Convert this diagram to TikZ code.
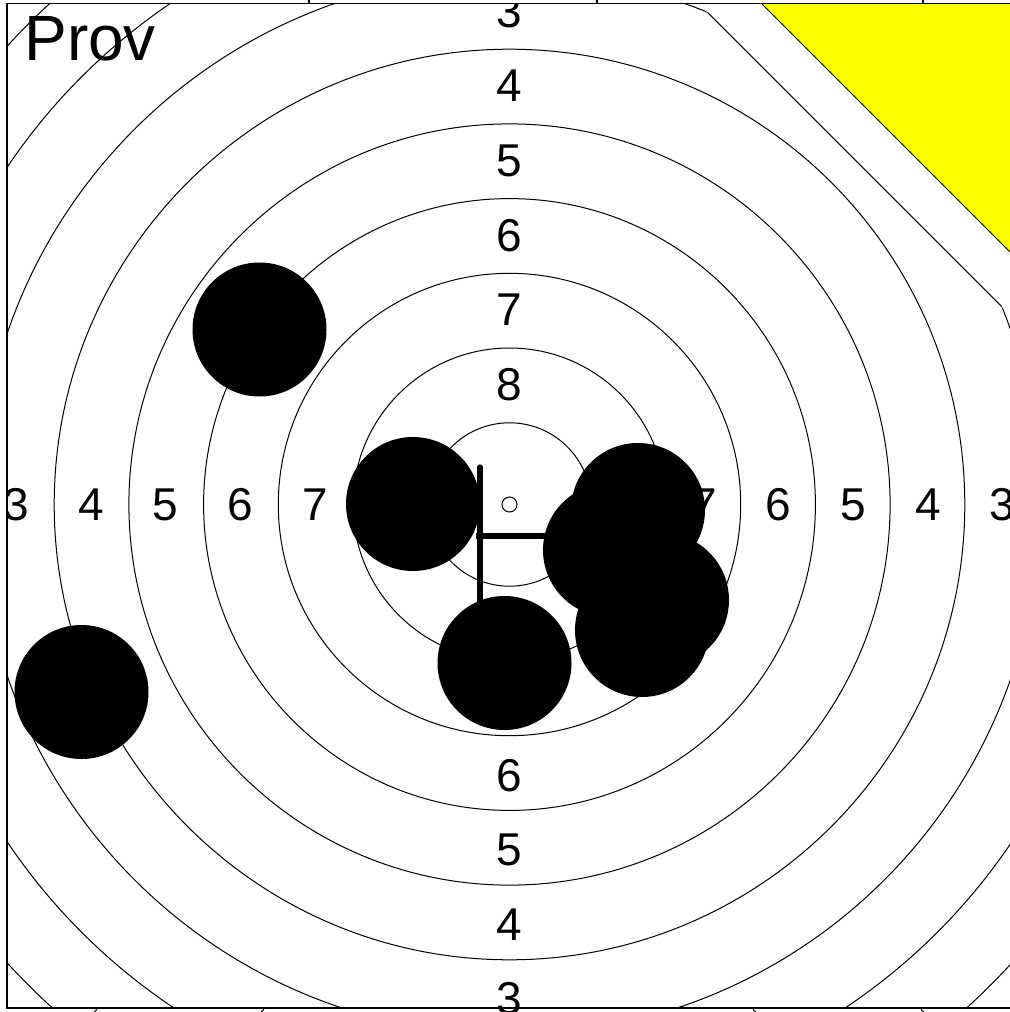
\documentclass[tikz,border=0pt]{standalone}
\usepackage{fontspec}
\setmainfont{Liberation Sans}
\definecolor{pureyellow}{RGB}{255,255,0}
\begin{document}
\begin{tikzpicture}[x=0.5pt,y=-0.5pt,
  ring/.style={line width=0.5pt},
  lbl/.style={inner sep=0pt, font=\fontsize{23}{23}\selectfont},
  shot/.style={fill=black},
  cross/.style={line width=2.6pt},
  frameline/.style={line width=0.8pt}]
\useasboundingbox (0,0) rectangle (1010,1012);
\fill[white] (0,0) rectangle (1010,1012);
\coordinate (c) at (509.5,504.5);
\begin{scope}
  \clip (7,3.5) rectangle (1010,1008);
  % rings
  \foreach \r in {81.7,156.5,231.2,305.9,380.6,455.3,530.5,605,680}
    \draw[ring] (c) circle[radius=\r];
  % white mask in the top right corner and chord
  \fill[white] (695.14,0) -- (1100,0) -- (1100,404.86) -- cycle;
  \fill[white] (685,-10) -- (1100,-10) -- (1100,0) -- (695.14,0) -- cycle;
  \coordinate (ch1) at (707.46,12.32);
  \coordinate (ch2) at (1001.68,306.54);
  \draw[ring] (ch1) -- (ch2);
  % yellow triangle
  \filldraw[fill=pureyellow, draw=black, line width=0.5pt] (758,0) -- (1100,0) -- (1100,342) -- cycle;
\end{scope}
\begin{scope}
  \clip (7,3.5) rectangle (1010,1012);
  % labels
  \foreach \s [evaluate=\s as \dd using {120+74.6*(8-\s)}] in {3,...,8}
    \node[lbl] (top\s) at (509.5,{504.5-\dd}) {\s};
  \foreach \s [evaluate=\s as \dd using {120+74.6*(8-\s)}] in {3,...,7}
    \node[lbl] (left\s) at ({509.5-\dd},504.5) {\s};
  \foreach \s [evaluate=\s as \dd using {120+74.6*(8-\s)}] in {3,...,7}
    \node[lbl] (right\s) at ({509.5+\dd},504.5) {\s};
  \foreach \s [evaluate=\s as \dd using {120+74.6*(8-\s)}] in {3,...,6}
    \node[lbl] (bot\s) at (509.5,{504.5+\dd+1.5}) {\s};
  % center
  \draw[ring] (c) circle[radius=7.5];
  % group marker
  \coordinate (v1) at (480,467);
  \coordinate (v2) at (480,615);
  \coordinate (h1) at (476,536);
  \coordinate (h2) at (600,536);
  \draw[cross, line cap=round] (v1) -- (v2);
  \draw[cross] (h1) -- (h2);
  % shots
  \foreach \x/\y in {259.5/329.5, 413/504, 81.5/692, 504.5/663, 638/510, 610/550, 662/600, 642/630}
    \fill[shot] (\x,\y) circle[radius=67];
\end{scope}
% frame
\draw[frameline] (1010,3.5) -- (7,3.5) -- (7,1008) -- (1010,1008);
\foreach \x in {309,597,923} \draw[frameline] (\x,0) -- (\x,3.5);
\foreach \x in {94,261} \draw[line width=0.5pt] (\x,1012) -- (\x+3,1009.5);
\foreach \x in {753,921} \draw[line width=0.5pt] (\x,1009.5) -- (\x+3,1012);
% title
\node[inner sep=0pt, anchor=base west, font=\fontsize{32}{32}\selectfont] (prov) at (24,61) {Prov};
\end{tikzpicture}
\end{document}
